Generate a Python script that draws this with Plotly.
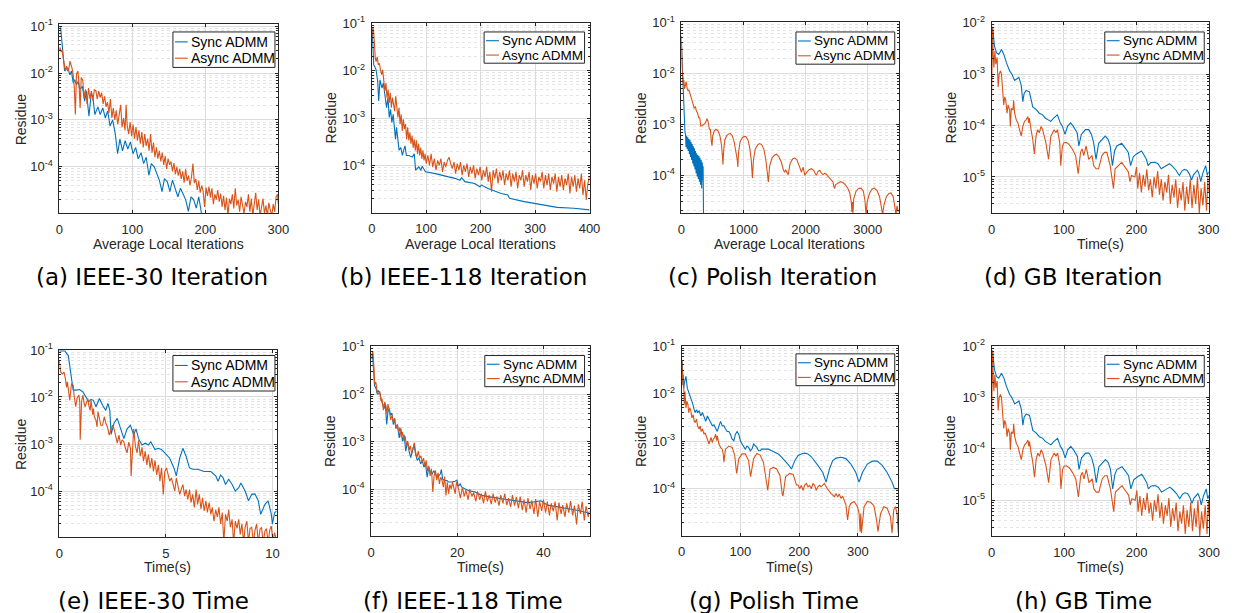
import plotly.graph_objects as go

W, H = 1235, 613
SYNC_COLOR = "#0072BD"
ASYNC_COLOR = "#D95319"
AX_COLOR = "#262626"
GRID = "#dcdcdc"
MINOR_GRID = "#e4e4e4"
FONT = "Liberation Sans, Arial, Helvetica, sans-serif"
CAP_FONT = "DejaVu Sans, sans-serif"
SERIES_NAMES = ["Sync ADMM", "Async ADMM"]

# ---------------- data: (x, residue) ----------------
A_SYNC = [(0,0.087),(1.8,0.093),(3.6,0.046),(5.4,0.017),(7.2,0.011),(10,0.013),(12,0.0126),(14.4,0.0091),(16.7,0.011),(19,0.0062),(21,0.0072),(23.5,0.0056),(25.7,0.0066),(28,0.0045),(31.6,0.0052),(34.7,0.0025),(37,0.0041),(40.6,0.0012),(43.8,0.0038),(46,0.003),(48.7,0.0013),(52.8,0.0019),(56,0.0013),(59.5,0.0018),(63,0.0011),(66.3,0.00155),(69.5,0.00074),(73,0.001),(76.7,0.0005),(79.8,0.00019),(83,0.00039),(86.6,0.00022),(90.2,0.00036),(93.8,0.00024),(97.4,0.00034),(101,0.00019),(104.6,0.00026),(108,0.000148),(112,0.0002),(115.5,0.000117),(119,0.00016),(122.7,6.6e-5),(126,0.000117),(130,1e-4),(133.5,7.2e-5),(137,5.2e-5),(140.7,2.95e-5),(144,5.6e-5),(148,4.8e-5),(151.5,2.95e-5),(155,5.2e-5),(158.8,3.5e-5),(162.4,2.3e-5),(166,3.5e-5),(169.6,2.5e-5),(173,2e-5),(176.8,1.12e-5),(180.4,2.3e-5),(184,2e-5),(187.6,1.32e-5),(191,2.3e-5),(195,9e-6),(198,5e-6)]

A_ASYNC = [(0,0.03),(1,0.035),(2.5,0.028),(4,0.031),(5.5,0.02),(7,0.013),(8.5,0.011),(10,0.014),(11.5,0.011),(13,0.012),(14.5,0.018),(16,0.015),(17.5,0.0126),(19,0.009),(20.5,0.005),(22,0.0013),(23.5,0.0095),(25.5,0.011),(27,0.006),(28.5,0.0018),(30,0.008),(32,0.0072),(34,0.003),(36,0.0045),(38,0.0022),(40,0.0048),(42,0.0028),(44,0.0041),(46,0.0026),(48,0.0044),(50,0.0042),(52,0.0028),(54,0.0041),(56,0.003),(58,0.0038),(60,0.0022),(62,0.0032),(64,0.0019),(66,0.0024),(68,0.0014),(70,0.0028),(72,0.0011),(74,0.0018),(76,0.001),(78,0.0016),(80,0.0008),(82,0.0013),(84,0.0021),(86,0.0007),(88,0.0011),(90,0.0006),(91.5,0.0021),(93,0.00075),(95,0.0005),(97,0.0009),(99,0.00045),(101,0.0008),(103,0.0004),(105,0.0007),(107,0.00036),(109,0.0006),(111,0.00031),(113,0.00055),(115,0.00026),(117,0.0005),(119,0.00028),(121,0.0004),(123,0.00022),(125,0.0005),(127,0.0002),(129,0.00033),(131,0.00016),(133,0.00026),(135,0.00015),(137,0.00022),(139,0.00013),(141,0.0002),(143,0.00011),(145,0.00017),(147,9e-5),(149,0.00015),(151,0.00011),(153,0.00013),(155,8e-5),(157,0.00012),(159,7e-5),(161,0.0001),(163,6.5e-5),(165,9e-5),(167,5.5e-5),(169,8e-5),(171,4.6e-5),(173,9e-5),(175,5e-5),(177,6.5e-5),(179,4e-5),(181,6e-5),(183,0.000117),(185,4.5e-5),(187,5.5e-5),(189,3.2e-5),(191,5e-5),(193,2.8e-5),(195,4e-5),(197,3e-5),(199,1.4e-5),(201,3.6e-5),(203,2.4e-5),(205,3.8e-5),(207,2.2e-5),(209,3.5e-5),(211,1.6e-5),(213,2.6e-5),(215,2e-5),(217,3.2e-5),(219,1.8e-5),(221,2.7e-5),(223,1.4e-5),(225,2.4e-5),(227,1.2e-5),(229,2.2e-5),(231,9e-6),(233,2.1e-5),(235,1.6e-5),(237,2.6e-5),(239,1.3e-5),(241,3.5e-5),(243,1.5e-5),(245,2e-5),(247,1.1e-5),(249,2.3e-5),(251,1.5e-5),(253,1e-5),(255,1.8e-5),(257,1.4e-5),(259,2.6e-5),(261,1.1e-5),(263,2.1e-5),(265,9e-6),(267,1.6e-5),(269,2.8e-5),(271,1.2e-5),(273,2e-5),(275,9e-6),(277,1.3e-5),(279,2.1e-5),(281,1e-5),(283,1.5e-5),(285,9e-6),(287,1.7e-5),(289,1.2e-5),(291,9e-6),(293,1.6e-5),(295,1.1e-5),(297,2.3e-5),(299,2.6e-5),(300,1.6e-5)]

B_SYNC = [(0,0.065),(0.6,0.076),(1.8,0.04),(3.6,0.0132),(5.4,0.0122),(7.9,0.0104),(10.9,0.0059),(12.7,0.0023),(15.1,0.0064),(18.8,0.0043),(21.2,0.0055),(24.8,0.0029),(27.2,0.00166),(29.7,0.0027),(32.1,0.00103),(34.5,0.00153),(36.9,0.00081),(39.3,0.0012),(43.6,0.00036),(45.4,0.00064),(47.8,0.00034),(50.2,0.00021),(53.3,0.00024),(56.3,0.000164),(59.3,0.000225),(61.1,0.00026),(63.5,0.000164),(68.4,0.000164),(74.4,0.000151),(78.1,0.000177),(79.3,0.000119),(80.5,8e-5),(83.5,8.7e-5),(86.5,9.4e-5),(90.2,8e-5),(92.6,9.7e-5),(98.6,7.4e-5),(116.8,6.8e-5),(141,5.8e-5),(153,5.4e-5),(162,4.9e-5),(165,5.6e-5),(171,4.6e-5),(189,4.2e-5),(198.5,3.6e-5),(201.5,3.9e-5),(213.6,3.3e-5),(237.8,2.6e-5),(250,2.4e-5),(253,2.05e-5),(280,1.75e-5),(310,1.5e-5),(340.7,1.32e-5),(371,1.27e-5),(395,1.22e-5),(400,1.17e-5)]

B_ASYNC = [(0,0.047),(1,0.076),(2,0.083),(3.5,0.065),(5,0.029),(6.5,0.018),(8,0.0155),(10,0.0196),(12,0.0132),(14,0.0143),(16,0.0104),(18,0.0082),(20,0.0104),(22,0.0051),(24,0.0037),(26,0.0055),(28,0.0027),(30,0.004),(32,0.0021),(34,0.0034),(36,0.00166),(38,0.0027),(40,0.0018),(42,0.0014),(44,0.0029),(46,0.0018),(48,0.00103),(50,0.00166),(52,0.00075),(54,0.0012),(56,0.00054),(58,0.00095),(60,0.00059),(62,0.00075),(64,0.00036),(66,0.00064),(68,0.00034),(70,0.0005),(72,0.00029),(74,0.00043),(76,0.00024),(78,0.00036),(80,0.00021),(82,0.00034),(84,0.000177),(86,0.00029),(88,0.000164),(90,0.00024),(92,0.00014),(94,0.00021),(96,0.000129),(98,0.000177),(100,0.00011),(103,0.000164),(106,0.000101),(109,0.000177),(112,9.4e-5),(115,0.00014),(118,8e-5),(121,0.000129),(124,0.000101),(127,0.00014),(130,7.4e-5),(133,0.000119),(136,9.4e-5),(139,0.000129),(142,0.000151),(145,0.00011),(148,8.7e-5),(151,0.000119),(154,6.8e-5),(157,0.00011),(160,8e-5),(163,0.000119),(166,6.3e-5),(169,0.000101),(172,7.4e-5),(175,0.00011),(178,5.8e-5),(181,9.4e-5),(184,6.8e-5),(187,0.000101),(190,5.4e-5),(193,8.7e-5),(196,6.3e-5),(199,9.4e-5),(202,4.9e-5),(205,8e-5),(208,5.8e-5),(211,9.4e-5),(214,4.6e-5),(217,7.4e-5),(220,2.83e-5),(223,8e-5),(226,5.4e-5),(229,8.7e-5),(232,4.2e-5),(235,7.4e-5),(238,4.9e-5),(241,8e-5),(244,3.9e-5),(247,6.8e-5),(250,4.9e-5),(253,8e-5),(256,3.6e-5),(259,6.8e-5),(262,4.6e-5),(265,7.4e-5),(268,3.3e-5),(271,6.3e-5),(274,4.9e-5),(277,8e-5),(280,3.6e-5),(283,6.3e-5),(286,4.6e-5),(289,7.4e-5),(292,3.06e-5),(295,6.3e-5),(298,4.2e-5),(301,6.8e-5),(304,3.3e-5),(307,5.8e-5),(310,4.6e-5),(313,7.4e-5),(316,3.3e-5),(319,6.3e-5),(322,3.9e-5),(325,6.8e-5),(328,3.06e-5),(331,5.8e-5),(334,4.2e-5),(337,6.8e-5),(340,2.83e-5),(343,5.8e-5),(346,3.6e-5),(349,6.3e-5),(352,3.06e-5),(355,5.4e-5),(358,3.9e-5),(361,6.8e-5),(364,2.6e-5),(367,5.8e-5),(370,3.6e-5),(373,6.3e-5),(376,2.83e-5),(379,5.4e-5),(382,3.3e-5),(385,6.8e-5),(388,2.4e-5),(391,4.9e-5),(394,1.9e-5),(397,4.2e-5),(400,5.8e-5)]

C_SYNC = [(0,0.04),(8,0.02),(16,0.011),(27,0.005),(37,0.0022),(48,0.0011),(58,0.0007),(67,0.00064),(75,0.00036),(84,0.0006),(93,0.00033),(102,0.00056),(111,0.0003),(120,0.00052),(129,0.00026),(138,0.0005),(147,0.00023),(156,0.00045),(165,0.0002),(174,0.00041),(183,0.00017),(192,0.00037),(201,0.00015),(210,0.00034),(219,0.00013),(228,0.0003),(237,0.00011),(246,0.00027),(255,9.5e-5),(264,0.00025),(273,8.5e-5),(282,0.00024),(291,7.5e-5),(300,0.00022),(309,6.5e-5),(318,0.0002),(327,5.5e-5),(336,0.00018),(345,8e-5),(350,0.00015),(358,1e-5)]

C_ASYNC = [(0,0.055),(6,0.012),(12,0.02),(18,0.007),(24,0.0087),(32,0.006),(40,0.0074),(50,0.005),(60,0.0055),(70,0.006),(77,0.0069),(93,0.0051),(109,0.0045),(120,0.0048),(136,0.004),(152,0.0038),(173,0.003),(189,0.0025),(205,0.0021),(227,0.0022),(243,0.0018),(259,0.0017),(280,0.00135),(296,0.00135),(312,0.00093),(333,0.00093),(360,0.001),(387,0.00107),(413,0.0013),(429,0.00115),(451,0.0008),(467,0.0008),(483,0.00045),(493,0.00038),(505,0.0006),(530,0.00075),(557,0.0008),(590,0.00075),(620,0.0006),(645,0.0004),(660,0.00025),(669,0.000163),(680,0.0003),(700,0.0005),(730,0.0006),(760,0.00065),(787,0.00066),(820,0.0006),(850,0.00045),(880,0.0003),(900,0.0002),(909,0.000145),(920,0.00028),(945,0.00045),(980,0.00055),(1010,0.00058),(1043,0.00057),(1075,0.00048),(1100,0.00035),(1125,0.0002),(1144,8.9e-5),(1160,0.0002),(1190,0.00033),(1230,0.0004),(1260,0.00042),(1293,0.0004),(1330,0.00032),(1360,0.0002),(1385,0.00012),(1400,7.4e-5),(1420,0.00015),(1460,0.00022),(1500,0.00025),(1533,0.00026),(1570,0.00023),(1610,0.00018),(1640,0.00013),(1660,0.000115),(1680,0.000126),(1700,0.00011),(1720,0.000103),(1750,0.00017),(1790,0.00021),(1827,0.00022),(1860,0.0002),(1900,0.00015),(1933,0.000115),(1960,0.000145),(1987,0.0001),(2020,0.000115),(2060,0.00013),(2093,0.000135),(2130,0.000125),(2160,0.000105),(2173,0.0001),(2200,0.00012),(2227,0.000126),(2255,0.00011),(2280,0.000103),(2310,0.00011),(2333,0.000105),(2360,9.5e-5),(2387,8.7e-5),(2415,8e-5),(2440,7.4e-5),(2455,6e-5),(2467,5.5e-5),(2480,6.5e-5),(2520,7e-5),(2560,7.5e-5),(2600,7.2e-5),(2640,6.5e-5),(2680,5.5e-5),(2710,4.5e-5),(2735,3e-5),(2745,1.9e-5),(2755,3e-5),(2762,1.8e-5),(2775,3.5e-5),(2810,4.8e-5),(2850,5.5e-5),(2893,5.6e-5),(2930,4.8e-5),(2955,3.2e-5),(2973,1.7e-5),(2990,3e-5),(3030,4.5e-5),(3070,5.4e-5),(3107,5.6e-5),(3150,5e-5),(3190,3.8e-5),(3220,2.5e-5),(3240,1.7e-5),(3260,2.6e-5),(3300,3.8e-5),(3340,4.4e-5),(3373,4.5e-5),(3410,3.8e-5),(3440,2.5e-5),(3455,1.7e-5),(3470,2.5e-5),(3495,1.9e-5)]

GB_SYNC = [(0,0.005),(1.4,0.0083),(2.3,0.006),(4,0.0035),(6.8,0.0026),(10,0.0024),(13.7,0.003),(17,0.0024),(20.5,0.00166),(25,0.00115),(28,0.001),(31.9,0.00075),(37.8,0.00086),(41,0.0006),(43.2,0.00029),(45,0.00042),(47.8,0.00048),(52.3,0.00045),(56.9,0.00023),(61.4,0.000206),(66,0.000173),(70.6,0.000161),(74,0.00014),(77.4,0.000129),(81.9,0.00012),(86,0.00014),(91,0.000161),(95,0.000112),(97.9,9.6e-5),(101.5,6.7e-5),(105,9.6e-5),(109.2,0.000112),(113,9.6e-5),(118.3,7.2e-5),(120.6,4e-5),(124,6.7e-5),(129.7,8.3e-5),(134.3,8.3e-5),(138,6.7e-5),(141.1,4.6e-5),(144.3,2.2e-5),(148,4.5e-5),(152.5,5.4e-5),(157,6.2e-5),(161,5.4e-5),(163.9,4e-5),(167,1.66e-5),(170,3.2e-5),(173,4e-5),(179.8,4.5e-5),(185,3.6e-5),(188.9,3e-5),(192.1,1.66e-5),(196,2.5e-5),(200.3,2.8e-5),(207.1,3.2e-5),(211,2.6e-5),(213.9,2.2e-5),(216.2,1.66e-5),(220,1.9e-5),(225.3,1.93e-5),(229.9,1.8e-5),(234.4,1.44e-5),(240,1.6e-5),(245.8,1.8e-5),(250,1.6e-5),(254.9,1.35e-5),(259.4,1.07e-5),(263,1.3e-5),(266.3,1.4e-5),(270,1.35e-5),(273.1,1.16e-5),(276.3,8.7e-6),(279,1.1e-5),(282.2,1.26e-5),(284.5,1.35e-5),(287,1.1e-5),(289,8.1e-6),(292,1.2e-5),(295.9,1.66e-5),(298.1,1.07e-5),(300,1.26e-5)]

GB_ASYNC = [(0,0.00036),(1.4,0.0078),(2.3,0.0024),(3.2,0.00134),(4.6,0.0028),(5.9,0.00155),(7.7,0.0021),(9.1,0.00056),(10.5,0.001),(12.3,0.00115),(13.7,0.001),(15,0.00056),(15.9,0.00036),(16.8,0.00025),(18.2,0.00036),(19.6,0.00031),(21.4,0.000173),(22.8,0.00025),(25,0.0002),(25.9,9.6e-5),(27.3,0.000215),(29.6,0.0002),(30.5,0.00031),(31.9,0.000173),(34.1,0.000129),(36.4,0.000112),(38.7,8.3e-5),(41,6.2e-5),(43.2,9.6e-5),(45.5,0.00012),(47.8,0.000129),(50.1,0.000149),(51.4,0.000112),(52.3,0.000139),(54.6,8.3e-5),(56.9,5.4e-5),(59.2,2.8e-5),(61.4,6.2e-5),(63.7,8.3e-5),(66,7.2e-5),(68.3,9.6e-5),(70.6,8.3e-5),(72.8,6.2e-5),(75.1,4.6e-5),(78.7,2.2e-5),(81.9,6.2e-5),(86.5,8.3e-5),(88.8,7.2e-5),(91,8.3e-5),(94.2,4.6e-5),(95.6,1.66e-5),(97.9,4e-5),(100.1,4.6e-5),(103.3,4.7e-5),(107,4.3e-5),(111.5,3.5e-5),(116.1,2.6e-5),(118.3,1.66e-5),(119.7,1.16e-5),(122.9,3e-5),(125.2,3.5e-5),(127.4,2.6e-5),(130.6,4e-5),(134.3,2.2e-5),(138.8,2.6e-5),(141.1,1.66e-5),(144.3,1.44e-5),(147.9,1.44e-5),(152.5,2.6e-5),(156.1,3e-5),(159.3,3e-5),(163.9,1.66e-5),(166.1,1.07e-5),(168.4,6e-6),(170.7,1.44e-5),(175.2,1.66e-5),(179.8,1.93e-5),(184.3,1.55e-5),(188.9,1.26e-5),(191.2,8.1e-6),(193.4,1.07e-5),(198,1e-5),(200.3,1.55e-5),(202,6e-6),(204.5,1.2e-5),(207,5e-6),(209.5,1.1e-5),(212,6.5e-6),(214.5,1.4e-5),(217,5.5e-6),(219.5,9e-6),(222,4e-6),(224.5,1e-5),(227,6e-6),(229.5,1.3e-5),(232,4.5e-6),(234.5,9e-6),(237,3.5e-6),(239.5,8e-6),(242,5e-6),(244.5,1.1e-5),(247,3e-6),(249.5,7e-6),(252,4e-6),(254.5,9e-6),(257,2.5e-6),(259.5,6e-6),(262,3.5e-6),(264.5,8e-6),(267,2.2e-6),(269.5,6.5e-6),(272,3e-6),(274.5,9e-6),(277,2.5e-6),(279.5,7e-6),(282,3e-6),(284.5,1e-5),(287,2e-6),(289.5,6e-6),(292,2.8e-6),(294.5,8e-6),(297,2.2e-6),(299,1e-5),(300,5e-6)]

E_SYNC = [(0,0.095),(0.26,0.095),(0.42,0.076),(0.49,0.047),(0.57,0.025),(0.65,0.014),(0.8,0.014),(0.95,0.0144),(1.11,0.0128),(1.26,0.01),(1.38,0.0079),(1.49,0.0089),(1.6,0.0085),(1.72,0.0062),(1.88,0.0093),(2.03,0.0067),(2.18,0.0052),(2.28,0.0073),(2.37,0.0052),(2.43,0.0016),(2.57,0.0028),(2.72,0.0035),(2.88,0.0021),(3.03,0.0013),(3.18,0.0021),(3.34,0.0025),(3.49,0.00155),(3.6,0.0021),(3.72,0.0013),(3.88,0.00095),(4.03,0.00104),(4.18,0.00095),(4.29,0.00112),(4.49,0.00076),(4.65,0.00081),(4.8,0.00076),(4.95,0.00065),(5.18,0.0005),(5.38,0.00031),(5.49,0.00021),(5.65,0.0005),(5.8,0.00081),(5.95,0.00055),(6.11,0.00031),(6.26,0.00029),(6.49,0.00029),(6.8,0.00026),(7.11,0.00026),(7.34,0.00021),(7.45,0.000162),(7.57,0.00022),(7.69,0.00019),(7.8,0.000138),(7.95,0.000178),(8.11,0.000138),(8.26,1e-4),(8.42,0.000118),(8.52,0.000148),(8.72,1e-4),(8.88,6.2e-5),(9.03,8.5e-5),(9.18,8.7e-5),(9.34,6.2e-5),(9.45,3.2e-5),(9.65,5.2e-5),(9.8,6.2e-5),(9.95,3.2e-5),(10.0,2e-5),(10.11,3.5e-5),(10.2,3.8e-5)]

E_ASYNC = [(0,0.06),(0.06,0.034),(0.15,0.031),(0.22,0.034),(0.28,0.025),(0.34,0.016),(0.38,0.021),(0.43,0.0128),(0.49,0.0085),(0.57,0.019),(0.65,0.018),(0.69,0.011),(0.77,0.0062),(0.83,0.0093),(0.92,0.011),(0.96,0.0079),(0.98,0.00123),(1.05,0.0085),(1.11,0.011),(1.15,0.0079),(1.21,0.0062),(1.26,0.0073),(1.34,0.0093),(1.38,0.0067),(1.445,0.0052),(1.49,0.0085),(1.54,0.0062),(1.57,0.0042),(1.6,0.0057),(1.645,0.0038),(1.72,0.0032),(1.77,0.0023),(1.815,0.0049),(1.88,0.0035),(1.95,0.0025),(2.03,0.0025),(2.11,0.0038),(2.18,0.0028),(2.26,0.0023),(2.34,0.00155),(2.415,0.0021),(2.49,0.0025),(2.57,0.0021),(2.65,0.00155),(2.72,0.00105),(2.8,0.00155),(2.88,0.00095),(2.95,0.00123),(3.03,0.00112),(3.1,0.00081),(3.18,0.00065),(3.26,0.0011),(3.34,0.0008),(3.37,0.00021),(3.42,0.0008),(3.49,0.0021),(3.57,0.0009),(3.65,0.00065),(3.72,0.0012),(3.8,0.00055),(3.88,0.00085),(3.95,0.00043),(4.03,0.0007),(4.11,0.00036),(4.18,0.0006),(4.26,0.00031),(4.34,0.0005),(4.42,0.00026),(4.49,0.00045),(4.57,0.00022),(4.65,0.00036),(4.72,0.000162),(4.8,0.00031),(4.88,8.5e-5),(4.95,0.00026),(5.03,0.00031),(5.11,0.00022),(5.18,0.000162),(5.26,0.00019),(5.34,0.000138),(5.42,0.0001),(5.49,0.00019),(5.57,0.000118),(5.65,8.5e-5),(5.72,0.000108),(5.8,0.000138),(5.88,7.8e-5),(5.95,0.000108),(6.03,6.6e-5),(6.11,0.000108),(6.18,5.7e-5),(6.26,8.5e-5),(6.34,4.5e-5),(6.42,0.000108),(6.49,5.2e-5),(6.57,8.5e-5),(6.65,4.1e-5),(6.72,7.2e-5),(6.8,3.8e-5),(6.88,6.2e-5),(6.95,3.5e-5),(7.03,5.7e-5),(7.11,3.2e-5),(7.18,4.5e-5),(7.26,2.3e-5),(7.34,4e-5),(7.42,2.8e-5),(7.49,4.5e-5),(7.57,2e-5),(7.65,3.5e-5),(7.72,8e-6),(7.8,3.2e-5),(7.88,2.3e-5),(7.95,4e-5),(8.03,1.7e-5),(8.11,2.5e-5),(8.18,8e-6),(8.26,2.3e-5),(8.34,1.6e-5),(8.42,2.5e-5),(8.49,1.2e-5),(8.57,2e-5),(8.65,8e-6),(8.72,1.7e-5),(8.8,2.3e-5),(8.88,8e-6),(8.95,1.6e-5),(9.03,1.7e-5),(9.11,8e-6),(9.18,1.44e-5),(9.26,2e-5),(9.34,8e-6),(9.42,1.55e-5),(9.49,1.7e-5),(9.57,8e-6),(9.65,1.4e-5),(9.72,1.6e-5),(9.8,8e-6),(9.88,1.5e-5),(9.95,1.8e-5),(10.03,8e-6),(10.1,1.3e-5),(10.2,9e-6)]

F_SYNC = [(0.15,0.055),(0.3,0.075),(0.54,0.034),(0.77,0.0152),(1.15,0.013),(1.38,0.0103),(1.68,0.012),(2.07,0.0103),(2.37,0.0075),(2.68,0.0059),(2.98,0.005),(3.29,0.0064),(3.6,0.0023),(3.9,0.0043),(4.21,0.005),(4.51,0.0036),(4.82,0.004),(5.13,0.0023),(5.43,0.0031),(5.74,0.0019),(6.12,0.0023),(6.5,0.0012),(6.89,0.0019),(7.27,0.00102),(7.65,0.0014),(8.03,0.00063),(8.42,0.00102),(8.8,0.00063),(9.18,0.00046),(9.56,0.00063),(9.95,0.00087),(10.33,0.00054),(10.71,0.0004),(11.09,0.00046),(11.48,0.00034),(11.86,0.0004),(12.24,0.00029),(12.62,0.00034),(13.0,0.000178),(13.39,0.00029),(13.77,0.000225),(14.15,0.00021),(14.54,0.000245),(14.92,0.00021),(15.3,0.000178),(15.68,0.00019),(16.07,0.00021),(16.3,0.00026),(16.6,0.000163),(17.06,0.000151),(17.6,0.000151),(17.98,0.000141),(18.75,0.000141),(19.51,0.000147),(19.89,0.000155),(20.28,0.000115),(20.66,0.000129),(21.04,0.00011),(22.57,9.4e-5),(24.1,8.7e-5),(25.63,7.4e-5),(27.93,6.8e-5),(30.22,6.3e-5),(32.52,5.9e-5),(34.81,5.4e-5),(36.34,5.2e-5),(37.87,5.4e-5),(39.4,5.7e-5),(40.93,4.6e-5),(43.23,4.3e-5),(45.52,3.9e-5),(47.82,3.6e-5),(49.35,3.3e-5),(50.7,3.1e-5)]

F_ASYNC = [(0.1,0.065),(0.38,0.08),(0.61,0.042),(0.84,0.016),(1.07,0.018),(1.3,0.0137),(1.53,0.0098),(1.76,0.0105),(2.0,0.0115),(2.22,0.0075),(2.53,0.0078),(2.83,0.0046),(3.14,0.0068),(3.44,0.0056),(3.67,0.0038),(3.9,0.0062),(4.21,0.0046),(4.51,0.0029),(4.82,0.0035),(5.13,0.0026),(5.43,0.0031),(5.74,0.0019),(6.05,0.0023),(6.35,0.0016),(6.66,0.002),(6.96,0.00125),(7.27,0.0016),(7.57,0.00105),(7.88,0.0013),(8.19,0.00085),(8.49,0.001),(8.8,0.00067),(9.11,0.00081),(9.41,0.00055),(9.72,0.00081),(10.02,0.00095),(10.33,0.00059),(10.63,0.00046),(10.94,0.00063),(11.25,0.00045),(11.55,0.0005),(11.86,0.00037),(12.17,0.00045),(12.47,0.00031),(12.78,0.0004),(13.08,0.00024),(13.39,0.00031),(13.69,0.00019),(14.0,0.00027),(14.31,8.7e-5),(14.61,0.00019),(14.92,0.00025),(15.22,0.000155),(15.53,0.00022),(15.84,0.000129),(16.14,0.000178),(16.45,0.000155),(16.76,0.00011),(17.06,0.000185),(17.37,7.4e-5),(17.67,0.00014),(17.98,8e-5),(18.28,0.000125),(18.59,0.0001),(18.9,0.00014),(19.2,0.00011),(19.51,8e-5),(19.81,0.00014),(20.1,0.00012),(20.3,0.0001),(20.7,6.5e-5),(21.2,0.00011),(21.6,7e-5),(22.0,9.5e-5),(22.5,6e-5),(22.9,0.0001),(23.4,7e-5),(23.8,8.5e-5),(24.3,5.5e-5),(24.7,9e-5),(25.2,6e-5),(25.6,8e-5),(26.1,5e-5),(26.5,9e-5),(27.0,5.5e-5),(27.4,7.5e-5),(27.9,4.8e-5),(28.3,8e-5),(28.8,5.2e-5),(29.2,7e-5),(29.7,4.5e-5),(30.1,7.5e-5),(30.6,5e-5),(31.0,8e-5),(31.5,4.6e-5),(31.9,6.5e-5),(32.4,4.2e-5),(32.8,7.5e-5),(33.3,4.5e-5),(33.7,6.8e-5),(34.2,4e-5),(34.6,7e-5),(35.1,3.6e-5),(35.5,6e-5),(36.0,3.2e-5),(36.4,6.5e-5),(36.9,3.8e-5),(37.3,5.8e-5),(37.8,3e-5),(38.2,6.2e-5),(38.7,2.6e-5),(39.1,5.5e-5),(39.6,3.5e-5),(40.0,6e-5),(40.5,3.2e-5),(40.9,5.5e-5),(41.4,2.8e-5),(41.8,5e-5),(42.3,3.4e-5),(42.7,5.5e-5),(43.2,2.2e-5),(43.6,5.2e-5),(44.1,3e-5),(44.5,4.6e-5),(45.0,2.6e-5),(45.4,5e-5),(45.9,3.2e-5),(46.3,5.6e-5),(46.8,2.8e-5),(47.2,4.5e-5),(47.7,1.8e-5),(48.1,4.8e-5),(48.6,3e-5),(49.0,5.5e-5),(49.5,2.2e-5),(49.9,4.4e-5),(50.4,2.6e-5),(50.7,3.5e-5)]

G_SYNC = [(0.6,0.05),(1.7,0.029),(3.4,0.013),(5.1,0.018),(7.3,0.023),(9.6,0.013),(11.8,0.011),(14,0.0095),(16.3,0.0074),(18.5,0.0063),(21.3,0.0046),(23,0.004),(25.3,0.0046),(27,0.004),(29.8,0.0043),(32.6,0.0034),(35.4,0.004),(38.2,0.0031),(41,0.0026),(43.8,0.0034),(46.6,0.0029),(49.4,0.0026),(52.2,0.0021),(55,0.0022),(57.9,0.0018),(60.7,0.0016),(63.5,0.0021),(66.3,0.0026),(69.1,0.0021),(71.9,0.0021),(74.7,0.0018),(77.5,0.0016),(80.3,0.0016),(83.1,0.0014),(86,0.0011),(88.8,0.00102),(91.6,0.0014),(94.4,0.0016),(97.2,0.0014),(100,0.00102),(102.8,0.00087),(105.6,0.00079),(108.4,0.00068),(111.2,0.00079),(114,0.00074),(116.9,0.00063),(119.7,0.00068),(122.5,0.00087),(125.3,0.00079),(128.1,0.00074),(130.9,0.00063),(133.7,0.00063),(136.5,0.00068),(142.1,0.00068),(147.8,0.00068),(153.4,0.00063),(159,0.00058),(164.6,0.00054),(170.2,0.00046),(175.8,0.00039),(181.5,0.00032),(187.1,0.00026),(192.7,0.00039),(198.3,0.0005),(203.9,0.00054),(209.6,0.00056),(215.2,0.00054),(220.8,0.00047),(226.4,0.00039),(232,0.00031),(240.4,0.00022),(246,0.000138),(251.7,0.00026),(257.3,0.00039),(262.9,0.00044),(271.3,0.00046),(279.8,0.00043),(288.2,0.00033),(296.6,0.00022),(302.2,0.000138),(307.9,0.00022),(316.3,0.00033),(324.7,0.00038),(333.1,0.00038),(341.6,0.00031),(350,0.00022),(358.4,0.000138),(362.4,1e-4),(366.9,1e-4),(369,1e-4)]

G_ASYNC = [(0.6,0.047),(1.7,0.015),(2.8,0.025),(4.5,0.0059),(5.6,0.011),(7.3,0.005),(9,0.0069),(10.7,0.0059),(11.8,0.004),(14,0.005),(15.7,0.0043),(17.4,0.0031),(19.7,0.0036),(21.3,0.0026),(23,0.0025),(25.3,0.0029),(27,0.0021),(29.8,0.0018),(31.5,0.0021),(33.1,0.0016),(35.4,0.0018),(38.2,0.0014),(39.9,0.0015),(42.1,0.0012),(44.4,0.00102),(46.6,0.00087),(48.3,0.00102),(50,0.0012),(52.2,0.00093),(53.9,0.0011),(56.2,0.0012),(57.9,0.0014),(59.6,0.00102),(60.7,0.0013),(62.4,0.00102),(63.5,0.00087),(66.3,0.00074),(69.1,0.00068),(70.8,0.00054),(71.9,0.00036),(74.7,0.00068),(80.3,0.00079),(86,0.00074),(90.4,0.0005),(92.7,0.00026),(93.8,0.00021),(97.2,0.00043),(102.8,0.00054),(108.4,0.00054),(114,0.00039),(117.4,0.00018),(122.5,0.00043),(128.1,0.00055),(133.7,0.00051),(139.3,0.00036),(145,0.000138),(146.6,9.3e-5),(150.6,0.00026),(156.2,0.00028),(161.8,0.00026),(167.4,0.00019),(171.3,7.7e-5),(172.5,7e-5),(177,0.00018),(184.3,0.00021),(189.9,0.0002),(193.8,0.000138),(195.5,0.00012),(198.3,0.00012),(201.1,0.0001),(203.9,0.000118),(206.7,9.3e-5),(209.6,0.00012),(212.4,0.000129),(215.2,0.00011),(218,0.000118),(220.8,0.0001),(223.6,0.000129),(226.4,0.000118),(229.2,9.3e-5),(232,0.00011),(234.8,0.000118),(237.6,0.00011),(243,0.000129),(248.3,0.0001),(251.7,8.6e-5),(254.5,7.9e-5),(257.3,7.4e-5),(260.1,6.8e-5),(262.9,7.9e-5),(265.7,6.8e-5),(268.5,7.7e-5),(271.3,6.3e-5),(274.2,7e-5),(277,5.4e-5),(279.8,4.6e-5),(282.6,2.2e-5),(285.4,4.2e-5),(288.2,4.9e-5),(293.8,5.4e-5),(299.4,4.2e-5),(302.2,3e-5),(303.9,1.26e-5),(305.1,3e-5),(306.2,1.17e-5),(310.7,4.2e-5),(316.3,5.4e-5),(321.9,5.2e-5),(327.5,4.4e-5),(332,2.2e-5),(334.3,1.26e-5),(338.8,3e-5),(344.4,4.2e-5),(350,3.9e-5),(355.6,2.6e-5),(358.4,1.17e-5),(361.2,3.6e-5),(364,4.2e-5),(366.9,3e-5),(369,1.17e-5)]

# ---------------- panel configuration (positions in page pixels) ----------------
ROW1_XTITLE_Y, ROW2_XTITLE_Y = 238.3, 566.7
ROW1_CAP_Y, ROW2_CAP_Y = 271.5, 600.5

PANELS = [
    dict(sync=A_SYNC, asy=A_ASYNC, box=(56, 277.7, 15.7, 207.3), xrange=(0, 300), yrange=(-4.99, -0.965),
         xticks=[0, 100, 200, 300], yexp=[-1, -2, -3, -4], xtitle="Average Local Iterations",
         caption="(a) IEEE-30 Iteration", cap=(150, ROW1_CAP_Y), ytx=16.7, xty=ROW1_XTITLE_Y,
         legend=(171, 274.3, 23.3, 59.3), lfont=14),
    dict(sync=B_SYNC, asy=B_ASYNC, box=(372.3, 592.7, 14.3, 206.7), xrange=(0, 400), yrange=(-4.99, -0.999),
         xticks=[0, 100, 200, 300, 400], yexp=[-1, -2, -3, -4], xtitle="Average Local Iterations",
         caption="(b) IEEE-118 Iteration", cap=(465, ROW1_CAP_Y), ytx=330.7, xty=ROW1_XTITLE_Y,
         legend=(486, 587.7, 23.3, 55), lfont=13.5),
    dict(sync=C_SYNC, asy=C_ASYNC, box=(685.7, 905.5, 13.7, 207), xrange=(0, 3495), yrange=(-4.74, -0.999),
         xticks=[0, 1000, 2000, 3000], yexp=[-1, -2, -3, -4], xtitle="Average Local Iterations",
         caption="(c) Polish Iteration", cap=(777.5, ROW1_CAP_Y), ytx=645, xty=ROW1_XTITLE_Y,
         legend=(801.7, 901.7, 23.3, 56), lfont=13.5),
    dict(sync=GB_SYNC, asy=GB_ASYNC, box=(999.7, 1219.5, 13.7, 207), xrange=(0, 300), yrange=(-5.7, -1.999),
         xticks=[0, 100, 200, 300], yexp=[-2, -3, -4, -5], xtitle="Time(s)",
         caption="(d) GB Iteration", cap=(1082.5, ROW1_CAP_Y), ytx=958.3, xty=ROW1_XTITLE_Y,
         legend=(1114.3, 1215, 23.3, 55), lfont=13.5),
    dict(sync=E_SYNC, asy=E_ASYNC, box=(56, 276, 346, 536), xrange=(0, 10.2), yrange=(-4.98, -0.999),
         xticks=[0, 5, 10], yexp=[-1, -2, -3, -4], xtitle="Time(s)",
         caption="(e) IEEE-30 Time", cap=(151, ROW2_CAP_Y), ytx=16.7, xty=ROW2_XTITLE_Y,
         legend=(171, 274.3, 351.7, 387.7), lfont=14),
    dict(sync=F_SYNC, asy=F_ASYNC, box=(371.7, 592.7, 342.3, 535), xrange=(0, 50.7), yrange=(-4.99, -0.99),
         xticks=[0, 20, 40], yexp=[-1, -2, -3, -4], xtitle="Time(s)",
         caption="(f) IEEE-118 Time", cap=(465, ROW2_CAP_Y), ytx=330.7, xty=ROW2_XTITLE_Y,
         legend=(486.7, 587.7, 351.7, 383.3), lfont=13.5),
    dict(sync=G_SYNC, asy=G_ASYNC, box=(686, 905.3, 342, 534.7), xrange=(0, 369), yrange=(-4.99, -0.999),
         xticks=[0, 100, 200, 300], yexp=[-1, -2, -3, -4], xtitle="Time(s)",
         caption="(g) Polish Time", cap=(779, ROW2_CAP_Y), ytx=645, xty=ROW2_XTITLE_Y,
         legend=(801.7, 901.7, 350, 382.3), lfont=13.5),
    dict(sync=GB_SYNC, asy=GB_ASYNC, box=(999.7, 1220, 342.3, 535), xrange=(0, 300), yrange=(-5.7, -1.999),
         xticks=[0, 100, 200, 300], yexp=[-2, -3, -4, -5], xtitle="Time(s)",
         caption="(h) GB Time", cap=(1093, ROW2_CAP_Y), ytx=958.3, xty=ROW2_XTITLE_Y,
         legend=(1114.3, 1215, 351.7, 383.3), lfont=13.5),
]


def px(x):
    return x / W


def py(y):
    return 1 - y / H


fig = go.Figure()
layout = {}
shapes = []
annotations = []

for i, p in enumerate(PANELS, start=1):
    sfx = "" if i == 1 else str(i)
    xa, ya = "x" + sfx, "y" + sfx
    L, R, T, B = p["box"]
    for name, data, color in ((SERIES_NAMES[0], p["sync"], SYNC_COLOR),
                              (SERIES_NAMES[1], p["asy"], ASYNC_COLOR)):
        fig.add_trace(go.Scatter(
            x=[d[0] for d in data], y=[d[1] for d in data], mode="lines", name=name,
            line=dict(color=color, width=1.1), showlegend=False, hoverinfo="skip",
            xaxis=xa, yaxis=ya))

    layout["xaxis" + sfx] = dict(
        domain=[px(L), px(R)], range=list(p["xrange"]), anchor=ya,
        tickmode="array", tickvals=p["xticks"], ticktext=[str(v) for v in p["xticks"]],
        ticks="inside", ticklen=3, tickwidth=1, tickcolor=AX_COLOR,
        showline=True, linecolor=AX_COLOR, linewidth=1, mirror="ticks",
        showgrid=True, gridcolor=GRID, gridwidth=1, zeroline=False,
        tickfont=dict(family=FONT, size=13, color=AX_COLOR), ticklabelstandoff=4,
        fixedrange=True)
    layout["yaxis" + sfx] = dict(
        domain=[py(B), py(T)], type="log", range=list(p["yrange"]), anchor=xa,
        tickmode="array", tickvals=[10.0 ** e for e in p["yexp"]],
        ticktext=["10<sup>%d</sup>" % e for e in p["yexp"]],
        ticks="inside", ticklen=3, tickwidth=1, tickcolor=AX_COLOR,
        showline=True, linecolor=AX_COLOR, linewidth=1, mirror="ticks",
        showgrid=True, gridcolor=GRID, gridwidth=1, zeroline=False,
        tickfont=dict(family=FONT, size=13, color=AX_COLOR), ticklabelstandoff=3,
        minor=dict(dtick="D1", ticks="inside", ticklen=2, tickcolor=AX_COLOR,
                   showgrid=True, gridcolor=MINOR_GRID, griddash="dot", gridwidth=1),
        fixedrange=True)

    annotations.append(dict(x=px(p["ytx"]), y=py((T + B) / 2), xref="paper", yref="paper",
                            text="Residue", textangle=-90, showarrow=False,
                            xanchor="center", yanchor="middle",
                            font=dict(family=FONT, size=14, color=AX_COLOR)))
    annotations.append(dict(x=px((L + R) / 2), y=py(p["xty"]), xref="paper", yref="paper",
                            text=p["xtitle"], showarrow=False, xanchor="center", yanchor="middle",
                            font=dict(family=FONT, size=14, color=AX_COLOR)))
    annotations.append(dict(x=px(p["cap"][0]), y=py(p["cap"][1]), xref="paper", yref="paper",
                            text=p["caption"], showarrow=False, xanchor="center", yanchor="middle",
                            font=dict(family=CAP_FONT, size=23, color="#000000")))
    lx0, lx1, ly0, ly1 = p["legend"]
    shapes.append(dict(type="rect", xref="paper", yref="paper", x0=px(lx0), x1=px(lx1),
                       y0=py(ly1), y1=py(ly0), line=dict(color=AX_COLOR, width=1),
                       fillcolor="white", layer="above"))
    hh = ly1 - ly0
    for k, (name, color) in enumerate(((SERIES_NAMES[0], SYNC_COLOR), (SERIES_NAMES[1], ASYNC_COLOR))):
        yy = ly0 + hh * (0.28 if k == 0 else 0.74)
        shapes.append(dict(type="line", xref="paper", yref="paper", x0=px(lx0 + 2), x1=px(lx0 + 15),
                           y0=py(yy), y1=py(yy), line=dict(color=color, width=1.1), layer="above"))
        annotations.append(dict(x=px(lx0 + 16), y=py(yy), xref="paper", yref="paper", text=name,
                                showarrow=False, xanchor="left", yanchor="middle",
                                font=dict(family=FONT, size=p["lfont"], color="#000000")))

fig.update_layout(
    width=W, height=H, autosize=False,
    margin=dict(l=0, r=0, t=0, b=0, pad=0),
    paper_bgcolor="white", plot_bgcolor="white",
    showlegend=False, shapes=shapes, annotations=annotations,
    **layout)

fig.write_html("out.html", config={"displayModeBar": False},
               post_script="document.body.style.margin='0';")
